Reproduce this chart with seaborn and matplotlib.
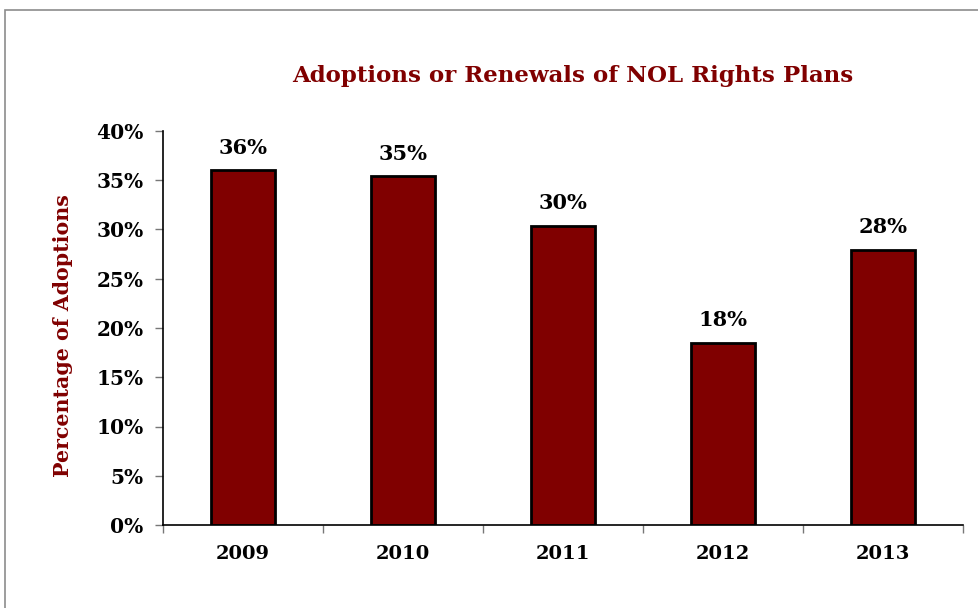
import matplotlib
matplotlib.use("Agg")
import matplotlib.pyplot as plt
import seaborn as sns
import pandas as pd
from matplotlib.patches import Rectangle
from matplotlib.ticker import PercentFormatter

years = ["2009", "2010", "2011", "2012", "2013"]
values = [36.0, 35.4, 30.4, 18.5, 27.9]
labels = ["36%", "35%", "30%", "18%", "28%"]
title = "Adoptions or Renewals of NOL Rights Plans"
ylabel = "Percentage of Adoptions"

sns.set_theme(style="white")
plt.rcParams['font.family'] = ['DejaVu Serif']

RED = "#800000"
fig = plt.figure(figsize=(9.79, 6.08), dpi=100)
fig.patch.set_facecolor("white")
fig.add_artist(Rectangle((5/979, -0.1), 1.2, (608-10)/608 + 0.1, transform=fig.transFigure,
                         fill=False, edgecolor="#8c8c8c", linewidth=1.2))

ax = fig.add_axes([163/979, (608-525)/608, 800/979, (525-131)/608])
df = pd.DataFrame({"year": years, "value": values})
sns.barplot(data=df, x="year", y="value", ax=ax, color=RED, saturation=1,
            width=0.4, edgecolor="black", linewidth=2)

for i, (v, lab) in enumerate(zip(values, labels)):
    ax.text(i, v + 1.3, lab, ha="center", va="bottom", fontsize=15, fontweight="bold", color="black")

ax.set_ylim(0, 40)
ax.set_xlim(-0.5, 4.5)
ax.set_yticks(range(0, 41, 5))
ax.yaxis.set_major_formatter(PercentFormatter(decimals=0))
ax.set_xticks([-0.5, 0.5, 1.5, 2.5, 3.5, 4.5])
ax.set_xticklabels([])
for i, y in enumerate(years):
    ax.text(i, -2.0, y, ha="center", va="top", fontsize=14, fontweight="bold", color="black")
ax.tick_params(axis="both", which="major", direction="out", length=6, width=1,
               color="#777777", bottom=True, left=True)
ax.tick_params(axis="y", labelsize=14.5, pad=8, labelcolor="black")
for t in ax.get_yticklabels():
    t.set_fontweight("bold")
ax.set_xlabel("")
ax.set_ylabel(ylabel, fontsize=14.8, fontweight="bold", color=RED)
ax.yaxis.set_label_coords(-0.113, 0.482)
for s in ["top", "right"]:
    ax.spines[s].set_visible(False)
for s in ["left", "bottom"]:
    ax.spines[s].set_color("black")
    ax.spines[s].set_linewidth(1.2)

fig.text(573/979, (608-76)/608, title, ha="center", va="center", fontsize=16.5,
         fontweight="bold", color=RED)

fig.savefig("out.png", dpi=100, facecolor="white")
